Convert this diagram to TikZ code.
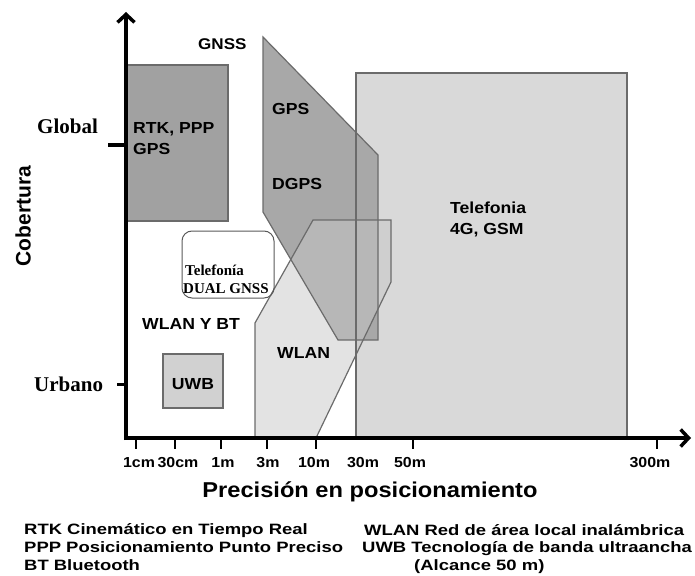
\documentclass[tikz,border=0pt]{standalone}
\usepackage{fontspec}
\setmainfont{Liberation Serif}
\newfontfamily\labfont[FakeStretch=1.1]{Liberation Sans}
\newfontfamily\legfont[FakeStretch=1.23]{Liberation Sans}
\newfontfamily\plainsans{Liberation Sans}
\usetikzlibrary{arrows.meta}
\tikzset{
  lbl/.style={anchor=base west, inner sep=0pt, font=\labfont\bfseries\fontsize{16}{18}\selectfont},
  ticklbl/.style={anchor=base, inner sep=0pt, font=\labfont\bfseries\fontsize{14.5}{16}\selectfont},
  leglbl/.style={anchor=base west, inner sep=0pt, font=\legfont\bfseries\fontsize{15}{18}\selectfont},
  serlbl/.style={anchor=base west, inner sep=0pt, font=\bfseries\fontsize{21}{24}\selectfont},
  dualLbl/.style={anchor=base west, inner sep=0pt, font=\bfseries\fontsize{15}{17}\selectfont},
  region/.style={draw=black!58, line width=1.2pt},
  axisline/.style={line width=3.5pt, -{Straight Barb[length=8pt,width=17pt,line width=3.5pt]}},
  tickline/.style={line width=2pt},
}
\begin{document}
\begin{tikzpicture}[x=1pt,y=-1pt]
\useasboundingbox (0,0) rectangle (695,575);
% region corners
\coordinate (t1) at (356,73); \coordinate (t2) at (627,73);
\coordinate (t3) at (627,438); \coordinate (t4) at (356,438);
\coordinate (g1) at (263,37); \coordinate (g2) at (378,155);
\coordinate (g3) at (378,340); \coordinate (g4) at (338,340);
\coordinate (g5) at (263,212);
\coordinate (w1) at (255,438); \coordinate (w2) at (255,323);
\coordinate (w3) at (313,220); \coordinate (w4) at (391,220);
\coordinate (w5) at (391,282); \coordinate (w6) at (316,438);
% fills
\fill[black!15] (t1) -- (t2) -- (t3) -- (t4) -- cycle;
\fill[black!34] (g1) -- (g2) -- (g3) -- (g4) -- (g5) -- cycle;
\fill[black!22, fill opacity=0.5] (w1) -- (w2) -- (w3) -- (w4) -- (w5) -- (w6) -- cycle;
% outlines
\draw[region] (t1) -- (t2) -- (t3) -- (t4) -- cycle;
\draw[region] (g1) -- (g2) -- (g3) -- (g4) -- (g5) -- cycle;
\draw[region] (w1) -- (w2) -- (w3) -- (w4) -- (w5) -- (w6) -- cycle;
% RTK box
\draw[region, fill=black!37] (127,65) rectangle (228,221);
% UWB box
\draw[region, fill=black!18] (163,354) rectangle (223,408);
% Dual GNSS box
\draw[draw=black!65, line width=1pt, rounded corners=10pt] (182,231) rectangle (274,298);
% axes
\coordinate (O) at (126,438);
\coordinate (ytop) at (126,12);
\coordinate (xend) at (691,438);
\draw[axisline] (126,440) -- (ytop);
\draw[axisline] (124,438) -- (xend);
% y ticks
\coordinate (gl1) at (108,145); \coordinate (gl2) at (126,145);
\draw[line width=4pt] (gl1) -- (gl2);
\coordinate (ur1) at (117,384); \coordinate (ur2) at (126,384);
\draw[line width=3pt] (ur1) -- (ur2);
% x ticks
\foreach \xx/\nm in {136/a,175/b,221/c,267/d,316/e,413/f,657/g}{
  \coordinate (tk\nm) at (\xx,438);
  \coordinate (tb\nm) at (\xx,449);
  \draw[tickline] (tk\nm) -- (tb\nm);
}
% tick labels
\node[ticklbl] (l1cm) at (139,467) {1cm};
\node[ticklbl] (l30cm) at (178,467) {30cm};
\node[ticklbl] (l1m) at (223,467) {1m};
\node[ticklbl] (l3m) at (268,467) {3m};
\node[ticklbl] (l10m) at (314,467) {10m};
\node[ticklbl] (l30m) at (363,467) {30m};
\node[ticklbl] (l50m) at (410,467) {50m};
\node[ticklbl] (l300m) at (650,467) {300m};
% axis titles
\node[anchor=base, inner sep=0pt, font=\labfont\bfseries\fontsize{21.5}{24}\selectfont] (xtitle) at (370,497) {Precisión en posicionamiento};
\node[rotate=90, inner sep=0pt, font=\plainsans\bfseries\fontsize{21}{24}\selectfont] (ytitle) at (23,216) {Cobertura};
\node[serlbl] (global) at (37,133) {Global};
\node[serlbl] (urbano) at (34,391) {Urbano};
% region labels
\node[lbl, font=\labfont\bfseries\fontsize{15.5}{18}\selectfont] (gnss) at (198,50) {GNSS};
\node[lbl] (rtk) at (133,133) {RTK, PPP};
\node[lbl] (rtkgps) at (133,154) {GPS};
\node[lbl] (gps) at (272,114) {GPS};
\node[lbl] (dgps) at (272,189) {DGPS};
\node[lbl] (tel1) at (450,213) {Telefonia};
\node[lbl] (tel2) at (450,234) {4G, GSM};
\node[lbl] (wlanbt) at (142,329) {WLAN Y BT};
\node[lbl] (wlan) at (277,358) {WLAN};
\node[lbl, anchor=base] (uwb) at (193,389) {UWB};
\node[dualLbl] (dual1) at (185,275) {Telefonía};
\node[dualLbl] (dual2) at (183,293) {DUAL GNSS};
% legend
\node[leglbl] (lg1) at (24,534) {RTK Cinemático en Tiempo Real};
\node[leglbl] (lg2) at (24,552) {PPP Posicionamiento Punto Preciso};
\node[leglbl] (lg3) at (24,570) {BT Bluetooth};
\node[leglbl] (lg4) at (364,535) {WLAN Red de área local inalámbrica};
\node[leglbl] (lg5) at (362,552) {UWB Tecnología de banda ultraancha};
\node[leglbl] (lg6) at (414,570) {(Alcance 50 m)};
\end{tikzpicture}
\end{document}
